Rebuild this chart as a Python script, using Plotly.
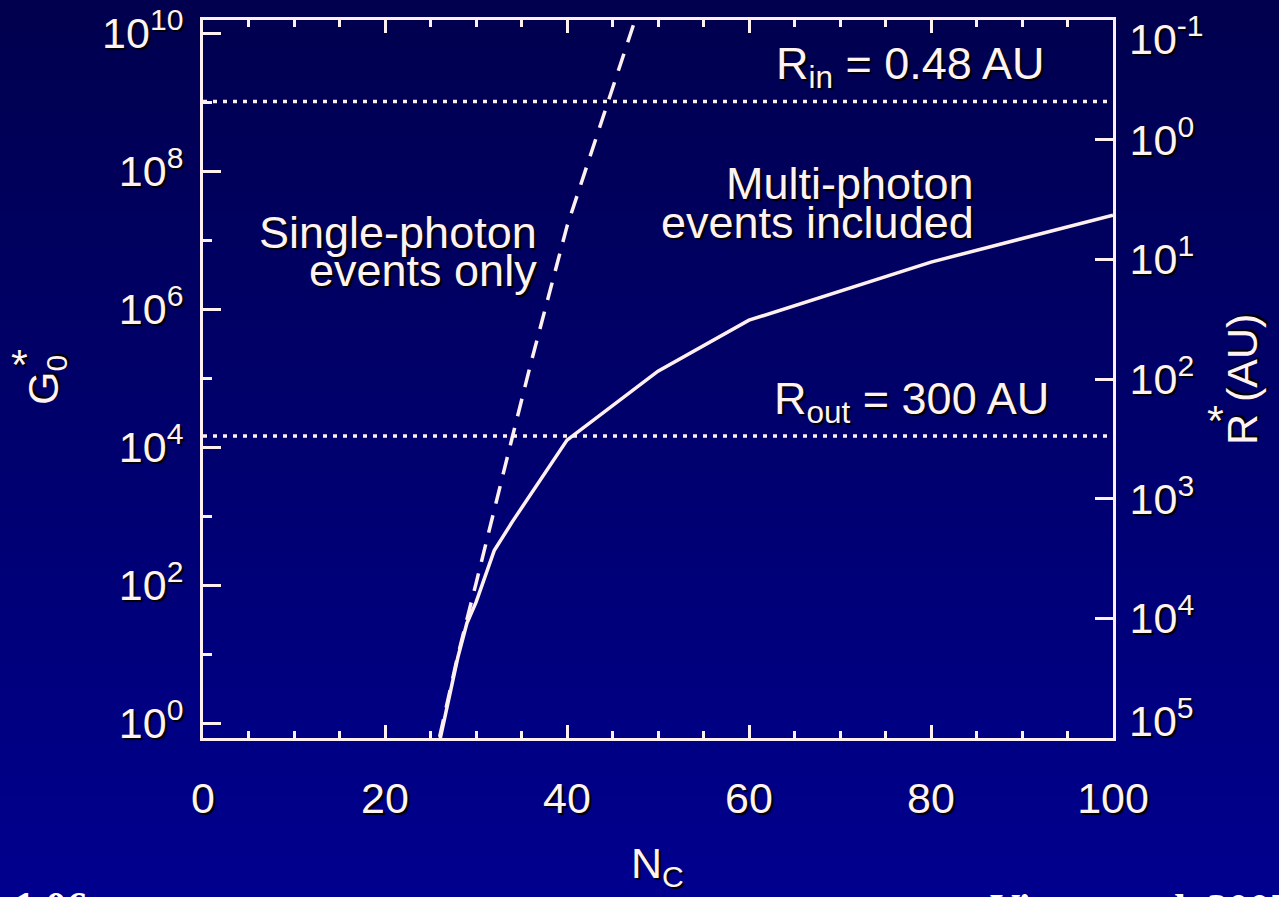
import plotly.graph_objects as go

# ---------------- data ----------------
nc_single = [26, 28, 30, 32, 34, 36, 38, 40, 42, 44, 46, 48]
g0_single = [0.63, 9.5, 105, 1.26e3, 1.41e4, 1.58e5, 1.58e6, 1.58e7, 1.0e8, 6.3e8, 4.0e9, 2.5e10]

nc_multi = [26, 27, 28, 29, 30, 32, 34, 40, 50, 60, 80, 100]
g0_multi = [0.54, 2.1, 8.9, 28, 56, 316, 830, 1.26e4, 1.26e5, 6.9e5, 4.8e6, 2.3e7]

r_in = 0.48    # AU
r_out = 300    # AU

x_tickvals = [0, 20, 40, 60, 80, 100]
x_ticktext = ["0", "20", "40", "60", "80", "100"]
g0_tickvals = [1, 1e2, 1e4, 1e6, 1e8, 1e10]
g0_ticktext = ["10<sup>0</sup>", "10<sup>2</sup>", "10<sup>4</sup>", "10<sup>6</sup>", "10<sup>8</sup>", "10<sup>10</sup>"]
g0_minor = [10, 1e3, 1e5, 1e7, 1e9]
r_tickvals = [1, 10, 100, 1000, 1e4]
r_ticktext = ["10<sup>0</sup>", "10<sup>1</sup>", "10<sup>2</sup>", "10<sup>3</sup>", "10<sup>4</sup>"]

# ---------------- style ----------------
FONT = "Liberation Sans, Arial, Helvetica, sans-serif"
FS = 43
FS_ANN = 45
TXT = "#fff2f2"
LINE = "#fff0f0"
SHADOW = "2px 2px 1px #000000"

W, H = 1279, 897
L, R, T, B = 203, 166, 20, 159
pw, ph = W - L - R, H - T - B

def px2paper_x(px):
    return (px - L) / pw

def px2paper_y(py):
    return (H - B - py) / ph

fig = go.Figure()

# horizontal dotted radius lines (on R axis)
for r in (r_in, r_out):
    fig.add_trace(go.Scatter(x=[0, 100], y=[r, r], yaxis="y2", mode="lines",
                             line=dict(color=LINE, width=3.5, dash="4px,6px"),
                             hoverinfo="skip", showlegend=False))

fig.add_trace(go.Scatter(x=nc_single, y=g0_single, mode="lines",
                         line=dict(color=LINE, width=3.5, dash="18px,12px"),
                         showlegend=False))
fig.add_trace(go.Scatter(x=nc_multi, y=g0_multi, mode="lines",
                         line=dict(color=LINE, width=3.5),
                         showlegend=False))

# background gradient (bands)
nb = 90
top_c = (0, 0, 78)
bot_c = (0, 0, 142)
shapes = []
for i in range(nb):
    f = i / (nb - 1)
    col = tuple(round(top_c[k] + (bot_c[k] - top_c[k]) * f) for k in range(3))
    y0 = i * H / nb
    y1 = (i + 1) * H / nb + 1
    shapes.append(dict(type="rect", xref="paper", yref="paper",
                       x0=px2paper_x(-5), x1=px2paper_x(W + 5),
                       y0=px2paper_y(y1), y1=px2paper_y(y0),
                       fillcolor="rgb(%d,%d,%d)" % col, line=dict(width=0),
                       layer="below"))

tickfont = dict(family=FONT, size=FS, color=TXT, shadow=SHADOW)

fig.update_layout(
    width=W, height=H,
    margin=dict(l=L, r=R, t=T, b=B, pad=0, autoexpand=False),
    paper_bgcolor="rgb(0,0,105)",
    plot_bgcolor="rgba(0,0,0,0)",
    shapes=shapes,
    showlegend=False,
    xaxis=dict(range=[0, 100], showgrid=False, zeroline=False, automargin=False,
               showline=True, linecolor=LINE, linewidth=3, mirror="ticks",
               ticks="inside", ticklen=13, tickwidth=2.5, tickcolor=LINE,
               tickvals=x_tickvals, ticktext=x_ticktext, tickfont=tickfont,
               ticklabelstandoff=20,
               minor=dict(dtick=5, tick0=0, ticks="inside", ticklen=7,
                          tickwidth=2.5, tickcolor=LINE, showgrid=False)),
    yaxis=dict(type="log", range=[-0.217, 10.19], showgrid=False, zeroline=False,
               automargin=False,
               showline=True, linecolor=LINE, linewidth=3,
               ticks="inside", ticklen=18, tickwidth=2.5, tickcolor=LINE,
               tickvals=g0_tickvals, ticktext=g0_ticktext, tickfont=tickfont,
               ticklabelstandoff=8,
               minor=dict(tickvals=g0_minor, ticks="inside", ticklen=9,
                          tickwidth=2.5, tickcolor=LINE, showgrid=False)),
    yaxis2=dict(type="log", range=[5, -1], overlaying="y", side="right",
                showgrid=False, zeroline=False, automargin=False,
                showline=True, linecolor=LINE, linewidth=3,
                ticks="inside", ticklen=18, tickwidth=2.5, tickcolor=LINE,
                tickvals=r_tickvals, ticktext=r_ticktext, tickfont=tickfont,
                ticklabelstandoff=5),
)

ann_font = dict(family=FONT, size=FS_ANN, color=TXT, shadow=SHADOW)
tick_ann_font = dict(family=FONT, size=FS, color=TXT, shadow=SHADOW)
anns = [
    # end labels of the R axis (kept inside the frame, as in the original)
    dict(text="10<sup>-1</sup>", xref="paper", yref="paper", font=tick_ann_font,
         x=px2paper_x(1127), y=px2paper_y(36), xanchor="left", yanchor="middle"),
    dict(text="10<sup>5</sup>", xref="paper", yref="paper", font=tick_ann_font,
         x=px2paper_x(1127), y=px2paper_y(718), xanchor="left", yanchor="middle"),
    # in-plot labels
    dict(text="R<sub>in</sub> = 0.48 AU", xref="x", yref="y", x=92.6, y=9.523,
         xanchor="right", yanchor="middle"),
    dict(text="R<sub>out</sub> = 300 AU", xref="x", yref="y", x=93.2, y=4.654,
         xanchor="right", yanchor="middle"),
    dict(text="Multi-photon", xref="x", yref="y", x=84.9, y=7.813,
         xanchor="right", yanchor="middle"),
    dict(text="events included", xref="x", yref="y", x=84.9, y=7.262,
         xanchor="right", yanchor="middle"),
    dict(text="Single-photon", xref="x", yref="y", x=36.9, y=7.103,
         xanchor="right", yanchor="middle"),
    dict(text="events only", xref="x", yref="y", x=36.9, y=6.552,
         xanchor="right", yanchor="middle"),
    # axis titles
    dict(text="N<sub>C</sub>", xref="paper", yref="paper", font=tick_ann_font,
         x=px2paper_x(657), y=px2paper_y(866), xanchor="center", yanchor="middle"),
    dict(text="G<sub>0</sub>", xref="paper", yref="paper", textangle=-90, font=tick_ann_font,
         x=px2paper_x(46), y=px2paper_y(380), xanchor="center", yanchor="middle"),
    dict(text="*", xref="paper", yref="paper", font=tick_ann_font,
         x=px2paper_x(19), y=px2paper_y(364), xanchor="center", yanchor="middle"),
    dict(text="R (AU)", xref="paper", yref="paper", textangle=-90, font=tick_ann_font,
         x=px2paper_x(1242), y=px2paper_y(380), xanchor="center", yanchor="middle"),
    dict(text="*", xref="paper", yref="paper", font=tick_ann_font,
         x=px2paper_x(1215), y=px2paper_y(420), xanchor="center", yanchor="middle"),
]
for a in anns:
    a.setdefault("showarrow", False)
    a.setdefault("font", ann_font)
    fig.add_annotation(**a)

# partially visible footer texts (cut at the bottom edge)
serif = dict(family="Liberation Serif, Times New Roman, serif", size=42,
             color="#ffffff", weight="bold")
fig.add_annotation(text="1.06", xref="paper", yref="paper", showarrow=False,
                   x=px2paper_x(12), y=px2paper_y(882), xanchor="left", yanchor="top",
                   font=serif)
fig.add_annotation(text="Visser et al. 2007", xref="paper", yref="paper", showarrow=False,
                   x=px2paper_x(988), y=px2paper_y(884), xanchor="left", yanchor="top",
                   font=serif)

fig.write_html("out.html")
